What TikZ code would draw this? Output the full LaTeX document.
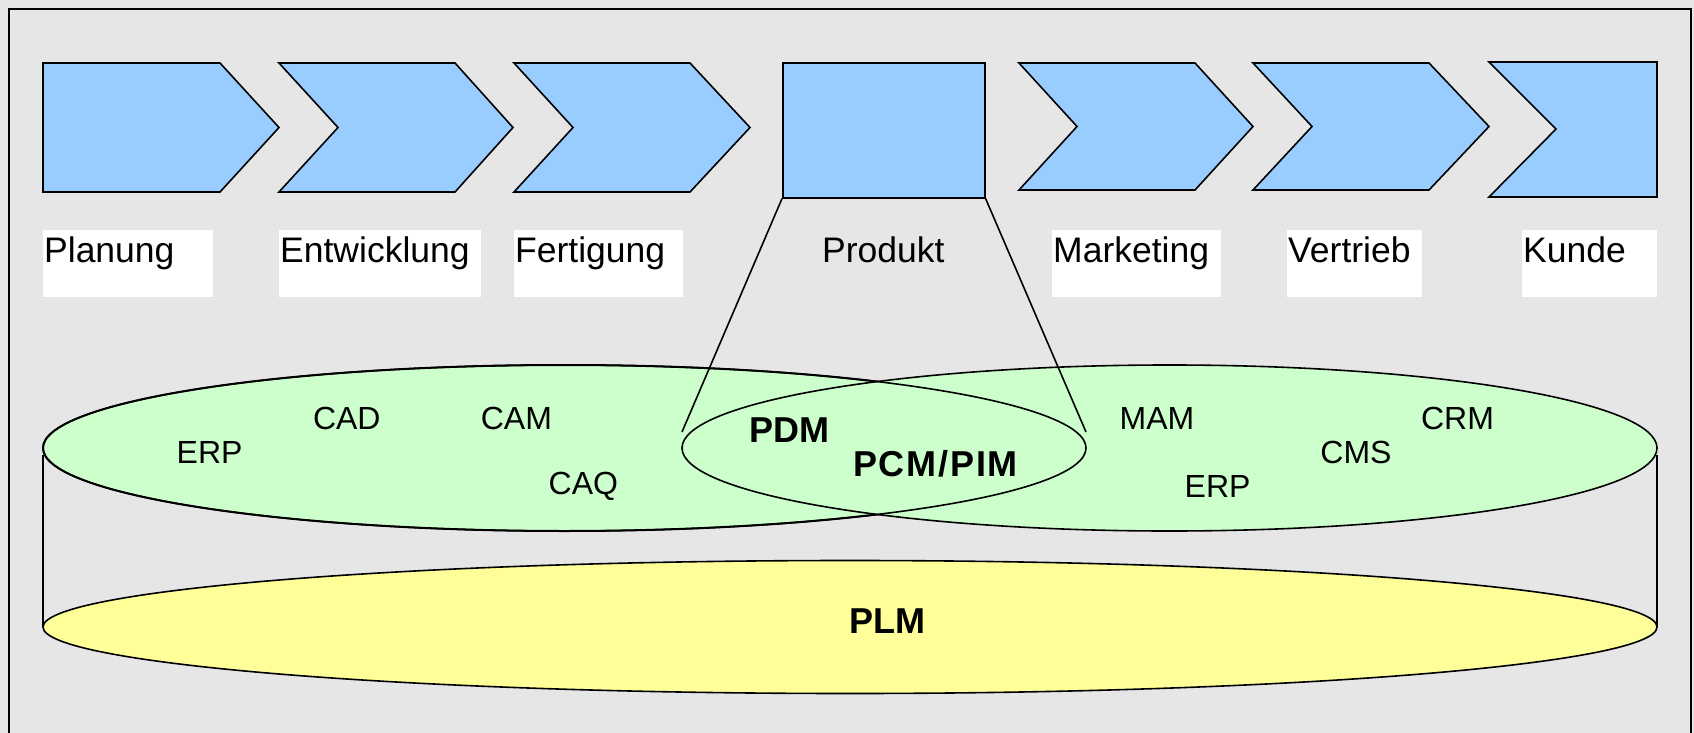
\documentclass[tikz,border=0pt]{standalone}
\usepackage{fontspec}
\setmainfont{Liberation Sans}
\definecolor{bgG}{HTML}{E6E6E6}
\definecolor{blueF}{HTML}{99CCFF}
\definecolor{greenF}{HTML}{CCFFCC}
\definecolor{yellowF}{HTML}{FFFF99}
\begin{document}
\begin{tikzpicture}[x=1pt,y=-1pt,
  shapeline/.style={draw=black, line width=1.6pt, line join=miter},
  blueshape/.style={shapeline, fill=blueF},
  lbl/.style={font=\fontsize{35.5}{40}\selectfont, anchor=base west, inner sep=0pt},
  sys/.style={font=\fontsize{32}{38}\selectfont, inner sep=0pt},
  sysb/.style={font=\fontsize{36}{42}\selectfont\bfseries, inner sep=0pt},
  wbox/.style={fill=white, draw=none, inner sep=0pt, anchor=north west, minimum height=67pt}]
\useasboundingbox (0,0) rectangle (1694,733);
\fill[bgG] (0,0) rectangle (1694,733);
\draw[line width=2.8pt] (9,9) rectangle (1691,780);
% process chevrons
\draw[blueshape] (43,63) -- (220,63) -- (279,127.5) -- (220,192) -- (43,192) -- cycle;
\draw[blueshape] (279,63) -- (455,63) -- (513,127.5) -- (455,192) -- (279,192) -- (338,127.5) -- cycle;
\draw[blueshape] (514,63) -- (690,63) -- (750,127.5) -- (690,192) -- (514,192) -- (573,127.5) -- cycle;
\node[blueshape, minimum width=202pt, minimum height=135pt, anchor=north west, inner sep=0pt] (prod) at (782,62) {};
\draw[blueshape] (1019,63) -- (1195,63) -- (1253,126.5) -- (1195,190) -- (1019,190) -- (1077,126.5) -- cycle;
\draw[blueshape] (1253,63) -- (1429,63) -- (1489,126.5) -- (1429,190) -- (1253,190) -- (1312,126.5) -- cycle;
\draw[blueshape] (1489,62) -- (1657,62) -- (1657,197) -- (1489,197) -- (1556,129) -- cycle;
% label boxes
\node[wbox, minimum width=170pt] (wPlan) at (43,230) {};
\node[wbox, minimum width=202pt] (wEnt) at (279,230) {};
\node[wbox, minimum width=169pt] (wFert) at (514,230) {};
\node[wbox, minimum width=169pt] (wMark) at (1052,230) {};
\node[wbox, minimum width=135pt] (wVert) at (1287,230) {};
\node[wbox, minimum width=135pt] (wKun) at (1522,230) {};
\node[lbl] (tPlan) at (44,262) {Planung};
\node[lbl] (tEnt) at (280,262) {Entwicklung};
\node[lbl] (tFert) at (515,262) {Fertigung};
\node[lbl] (tProd) at (822,262) {Produkt};
\node[lbl] (tMark) at (1053,262) {Marketing};
\node[lbl] (tVert) at (1288,262) {Vertrieb};
\node[lbl] (tKun) at (1523,262) {Kunde};
% cylinder sides
\draw[line width=1.6pt] (43,455) -- (43,627);
\draw[line width=1.6pt] (1657,455) -- (1657,627);
% system ellipses
\draw[shapeline, line width=2pt, fill=greenF] (564.5,448) ellipse [x radius=521.5pt, y radius=83pt];
\draw[shapeline, fill=greenF] (1169.5,448) ellipse [x radius=487.5pt, y radius=83pt];
\draw[shapeline] (564.5,448) ellipse [x radius=521.5pt, y radius=83pt];
\draw[shapeline, fill=yellowF] (850,627) ellipse [x radius=807pt, y radius=66.5pt];
% zoom lines
\coordinate (pl) at (682,432);
\coordinate (pr) at (1086,432);
\draw[line width=1.6pt] (prod.south west) -- (pl);
\draw[line width=1.6pt] (prod.south east) -- (pr);
% system labels
\node[sys] (erp1) at (209.6,452.7) {ERP};
\node[sys] (cad) at (346.8,418) {CAD};
\node[sys] (cam) at (516.4,418) {CAM};
\node[sys] (caq) at (583.4,486) {CAQ};
\node[sysb] (pdm) at (789.8,430) {PDM};
\node[sysb] (pcm) at (935.6,463.5) {\addfontfeature{LetterSpace=5}PCM/PIM};
\node[sys] (mam) at (1157,418) {MAM};
\node[sys] (cms) at (1356,452.7) {CMS};
\node[sys] (erp2) at (1217.6,486) {ERP};
\node[sys] (crm) at (1457.5,418) {CRM};
\node[sysb] (plm) at (887,621) {PLM};
\end{tikzpicture}
\end{document}
